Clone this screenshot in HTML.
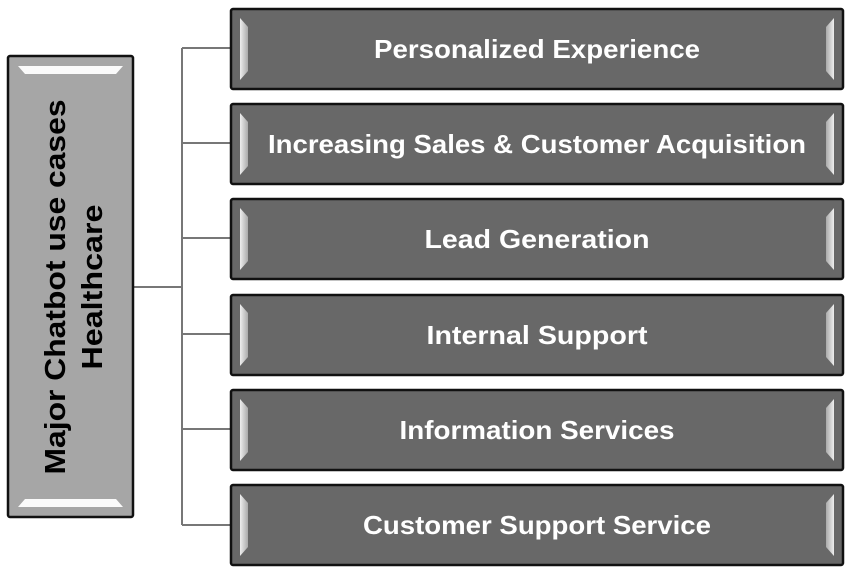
<!DOCTYPE html>
<html><head><style>
body{margin:0;background:#fff;}
svg{display:block;}
text{font-family:"Liberation Sans",sans-serif;font-weight:bold;}
</style></head><body>
<svg width="851" height="573" viewBox="0 0 851 573" xmlns="http://www.w3.org/2000/svg">
<defs>
<linearGradient id="ls" x1="0" x2="1"><stop offset="0" stop-color="#eee"/><stop offset="1" stop-color="#aaa"/></linearGradient>
<linearGradient id="rs" x1="0" x2="1"><stop offset="0" stop-color="#aaa"/><stop offset="1" stop-color="#eee"/></linearGradient>
</defs>
<g stroke="#777" stroke-width="2" fill="none">
<line x1="133" y1="287" x2="182" y2="287"/>
<line x1="182" y1="48" x2="182" y2="525"/>
<line x1="182" y1="48" x2="231" y2="48"/>
<line x1="182" y1="143" x2="231" y2="143"/>
<line x1="182" y1="238" x2="231" y2="238"/>
<line x1="182" y1="334" x2="231" y2="334"/>
<line x1="182" y1="429" x2="231" y2="429"/>
<line x1="182" y1="525" x2="231" y2="525"/>
</g>
<rect x="8" y="56" width="125" height="461" fill="#a6a6a6" stroke="#111" stroke-width="2.5" rx="2"/>
<polygon points="18,66 123,66 116,74 25,74" fill="#fafafa"/>
<polygon points="18,507 123,507 116,499 25,499" fill="#fafafa"/>
<g transform="translate(70,287) rotate(-90)" fill="#000" font-size="29" text-anchor="middle">
<text x="0" y="-5" textLength="375" lengthAdjust="spacingAndGlyphs">Major Chatbot use cases</text>
<text x="0" y="32" textLength="165" lengthAdjust="spacingAndGlyphs">Healthcare</text>
</g>
<g transform="translate(0,9)">
<rect x="231" y="0" width="612" height="80" fill="#686868" stroke="#111" stroke-width="2.5" rx="2"/>
<polygon points="240,9 248,18 248,62 240,71" fill="url(#ls)"/>
<polygon points="834,9 826,18 826,62 834,71" fill="url(#rs)"/>
<text x="537" y="49" fill="#fff" font-size="26" text-anchor="middle" textLength="326" lengthAdjust="spacingAndGlyphs">Personalized Experience</text>
</g>
<g transform="translate(0,104)">
<rect x="231" y="0" width="612" height="80" fill="#686868" stroke="#111" stroke-width="2.5" rx="2"/>
<polygon points="240,9 248,18 248,62 240,71" fill="url(#ls)"/>
<polygon points="834,9 826,18 826,62 834,71" fill="url(#rs)"/>
<text x="537" y="49" fill="#fff" font-size="26" text-anchor="middle" textLength="538" lengthAdjust="spacingAndGlyphs">Increasing Sales &amp; Customer Acquisition</text>
</g>
<g transform="translate(0,199)">
<rect x="231" y="0" width="612" height="80" fill="#686868" stroke="#111" stroke-width="2.5" rx="2"/>
<polygon points="240,9 248,18 248,62 240,71" fill="url(#ls)"/>
<polygon points="834,9 826,18 826,62 834,71" fill="url(#rs)"/>
<text x="537" y="49" fill="#fff" font-size="26" text-anchor="middle" textLength="225" lengthAdjust="spacingAndGlyphs">Lead Generation</text>
</g>
<g transform="translate(0,295)">
<rect x="231" y="0" width="612" height="80" fill="#686868" stroke="#111" stroke-width="2.5" rx="2"/>
<polygon points="240,9 248,18 248,62 240,71" fill="url(#ls)"/>
<polygon points="834,9 826,18 826,62 834,71" fill="url(#rs)"/>
<text x="537" y="49" fill="#fff" font-size="26" text-anchor="middle" textLength="221" lengthAdjust="spacingAndGlyphs">Internal Support</text>
</g>
<g transform="translate(0,390)">
<rect x="231" y="0" width="612" height="80" fill="#686868" stroke="#111" stroke-width="2.5" rx="2"/>
<polygon points="240,9 248,18 248,62 240,71" fill="url(#ls)"/>
<polygon points="834,9 826,18 826,62 834,71" fill="url(#rs)"/>
<text x="537" y="49" fill="#fff" font-size="26" text-anchor="middle" textLength="275" lengthAdjust="spacingAndGlyphs">Information Services</text>
</g>
<g transform="translate(0,485)">
<rect x="231" y="0" width="612" height="80" fill="#686868" stroke="#111" stroke-width="2.5" rx="2"/>
<polygon points="240,9 248,18 248,62 240,71" fill="url(#ls)"/>
<polygon points="834,9 826,18 826,62 834,71" fill="url(#rs)"/>
<text x="537" y="49" fill="#fff" font-size="26" text-anchor="middle" textLength="348" lengthAdjust="spacingAndGlyphs">Customer Support Service</text>
</g>
</svg>
</body></html>
